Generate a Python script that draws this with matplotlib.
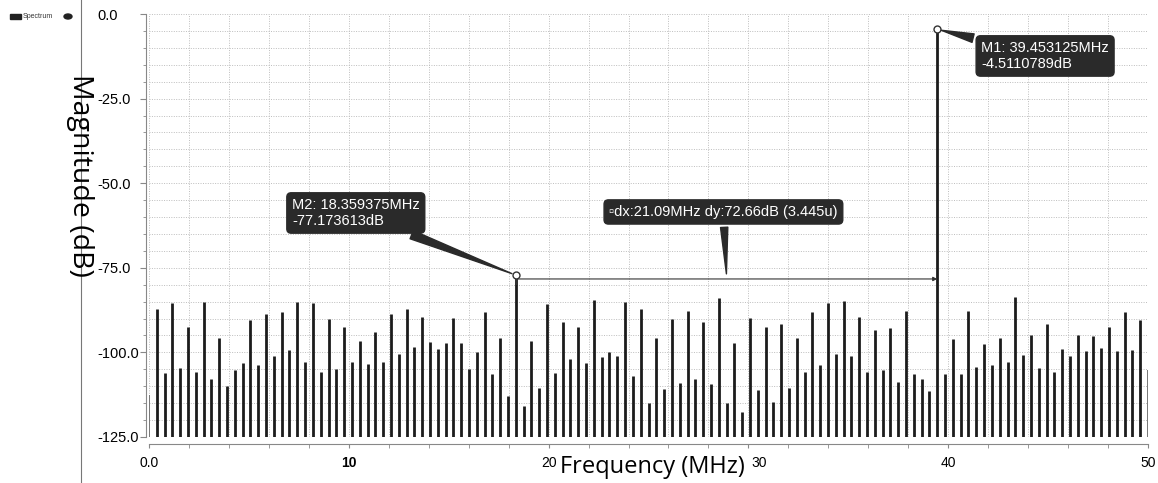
import matplotlib.pyplot as plt
import matplotlib.patches as mpatches
from matplotlib.lines import Line2D
from matplotlib.ticker import MultipleLocator, FixedLocator
from matplotlib.transforms import ScaledTranslation
import numpy as np

plt.switch_backend('Agg')

# FFT bins: 128 points over 0..50 MHz
freq_step = 50.0 / 128
n_bins = 129
freqs = np.arange(n_bins) * freq_step

# magnitudes (dB)
mags = [
    -112.5, -87.3, -106.0, -85.5, -104.7, -92.5, -105.9, -85.2, -108.0, -95.6,
    -110.0, -105.2, -103.0, -90.5, -103.8, -88.8, -101.0, -88.0, -99.2, -85.0,
    -102.9, -85.5, -105.7, -90.0, -105.0, -92.5, -102.9, -96.6, -103.5, -94.1,
    -102.9, -88.6, -100.4, -87.3, -98.4, -89.5, -96.9, -99.0, -97.1, -89.7,
    -97.3, -104.9, -99.8, -88.0, -106.3, -95.7, -112.8, -77.173613, -115.9, -96.6,
    -110.4, -85.6, -106.2, -91.1, -102.0, -92.5, -103.2, -84.4, -101.4, -100.0,
    -101.2, -85.1, -107.1, -87.3, -115.1, -95.6, -110.7, -90.0, -109.1, -87.7,
    -108.0, -91.1, -109.2, -84.0, -115.0, -97.3, -117.6, -89.8, -111.0, -92.5,
    -114.8, -91.6, -110.5, -95.8, -105.7, -88.1, -103.8, -85.5, -100.5, -84.7,
    -101.2, -89.6, -105.7, -93.5, -105.2, -92.8, -108.8, -87.7, -106.3, -108.0,
    -111.5, -4.5110789, -106.3, -95.9, -106.4, -87.7, -104.4, -97.5, -103.7, -95.8,
    -102.7, -83.7, -100.7, -95.0, -104.7, -91.7, -105.7, -99.0, -101.0, -94.8,
    -99.5, -95.1, -98.7, -92.6, -99.5, -88.2, -99.4, -90.3, -105.2,
]
mags = np.array(mags)

m1_f, m1_db = 39.453125, -4.5110789
m2_f, m2_db = 18.359375, -77.173613
delta_text = "dx:21.09MHz dy:72.66dB (3.445u)"

xticks = [0, 10, 20, 30, 40, 50]
xtick_labels = ["0.0", "10", "20", "30", "40", "50"]
yticks = [0, -25, -50, -75, -100, -125]
ytick_labels = ["0.0", "-25.0", "-50.0", "-75.0", "-100.0", "-125.0"]

W, H = 1158, 483
fig = plt.figure(figsize=(W / 100, H / 100), dpi=100)
ax = fig.add_axes([149 / W, 1 - 437 / H, 999 / W, 423 / H])

# spines first: set_position resets the ticks
for s in ['top', 'right']:
    ax.spines[s].set_visible(False)
ax.spines['bottom'].set_position(('outward', 5))
ax.spines['left'].set_position(('outward', 2))
ax.spines['bottom'].set_color('#888888')
ax.spines['left'].set_color('#888888')

ybot = -125
# inner bars dark, end bins lighter
ax.vlines(freqs[1:-1], ybot, mags[1:-1], color='#1c1c1c', lw=2.0, zorder=3)
ax.vlines(freqs[[0, -1]], ybot, mags[[0, -1]], color='#777777', lw=1.4, zorder=3)

ax.set_xlim(0, 50)
ax.set_ylim(-125, 0)

ax.xaxis.set_major_locator(FixedLocator(xticks))
ax.xaxis.set_minor_locator(MultipleLocator(2))
ax.yaxis.set_major_locator(FixedLocator(yticks))
ax.yaxis.set_minor_locator(MultipleLocator(5))

ax.grid(True, which='both', color='#bdbdbd', ls=(0, (1, 1.5)), lw=0.7, zorder=0)

ax.tick_params(axis='x', which='both', direction='out', length=3, color='#888888', pad=6)
ax.tick_params(axis='y', which='major', direction='out', length=4, color='#888888', pad=31)
ax.tick_params(axis='y', which='minor', direction='out', length=2, color='#888888')

ax.set_xticklabels(xtick_labels, fontsize=10, family='Liberation Sans')
ax.get_xticklabels()[1].set_fontweight('bold')
ax.set_yticklabels(ytick_labels, fontsize=10.5, family='Liberation Sans')
for lab in ax.get_yticklabels():
    lab.set_horizontalalignment('left')

# the "30" label sits a bit right of its tick, clear of the axis title
lab30 = ax.get_xticklabels()[3]
lab30.set_transform(lab30.get_transform() + ScaledTranslation(0.11, 0, fig.dpi_scale_trans))

# markers
ax.plot([m1_f, m2_f], [m1_db, m2_db], 'o', ms=5, mfc='white', mec='#333333', mew=1.0, zorder=5)

# delta line
dy_line = -78.3
ax.annotate('', xy=(m1_f, dy_line), xytext=(m2_f, dy_line),
            arrowprops=dict(arrowstyle='-|>', lw=0.8, color='#333333', mutation_scale=6,
                            shrinkA=0, shrinkB=0), zorder=4)
ax.plot([m2_f, m2_f], [dy_line - 1.5, dy_line + 1.5], color='#333333', lw=0.8, zorder=4)

box = dict(boxstyle='round,pad=0.35,rounding_size=0.3', fc='#2a2a2a', ec='#2a2a2a')
wedge = dict(arrowstyle='wedge,tail_width=0.6', fc='#2a2a2a', ec='#2a2a2a', shrinkB=3)

ax.annotate(f"M2: {m2_f}MHz\n{m2_db}dB", xy=(m2_f, m2_db), xytext=(10.35, -58.8),
            color='white', fontsize=10.5, family='Liberation Sans', ha='center', va='center',
            multialignment='left', linespacing=1.2, bbox=box, arrowprops=wedge, zorder=6)
ax.annotate(f"M1: {m1_f}MHz\n{m1_db}dB", xy=(m1_f, m1_db), xytext=(44.85, -12.4),
            color='white', fontsize=10.5, family='Liberation Sans', ha='center', va='center',
            multialignment='left', linespacing=1.2, bbox=box, arrowprops=wedge, zorder=6)
ax.annotate("\u25AB" + delta_text, xy=(28.9, -76.8), xytext=(28.75, -58.5),
            color='white', fontsize=10.5, family=['Liberation Sans', 'DejaVu Sans'],
            ha='center', va='center', bbox=box,
            arrowprops=dict(arrowstyle='wedge,tail_width=0.5', fc='#2a2a2a', ec='#2a2a2a', shrinkB=0),
            zorder=6)

# axis labels
fig.text(652 / W, 1 - 467 / H, "Frequency (MHz)", fontsize=17, family='Open Sans',
         ha='center', va='center')
fig.text(80 / W, 1 - 175 / H, "Magnitude (dB)", fontsize=20.5, family='Open Sans',
         ha='center', va='center', rotation=270)

# left legend panel
fig.add_artist(Line2D([80.5 / W, 80.5 / W], [0, 1], color='#777777', lw=0.8))
fig.add_artist(mpatches.Rectangle((10 / W, 1 - 19 / H), 11 / W, 5 / H, color='#222222'))
fig.text(23 / W, 1 - 16.5 / H, "Spectrum", fontsize=5, family='Liberation Sans',
         va='center', ha='left', color='#333333')
fig.add_artist(mpatches.Ellipse((68 / W, 1 - 16.5 / H), 8 / W, 5 / H, color='#222222'))

plt.savefig('out.png', dpi=100)
